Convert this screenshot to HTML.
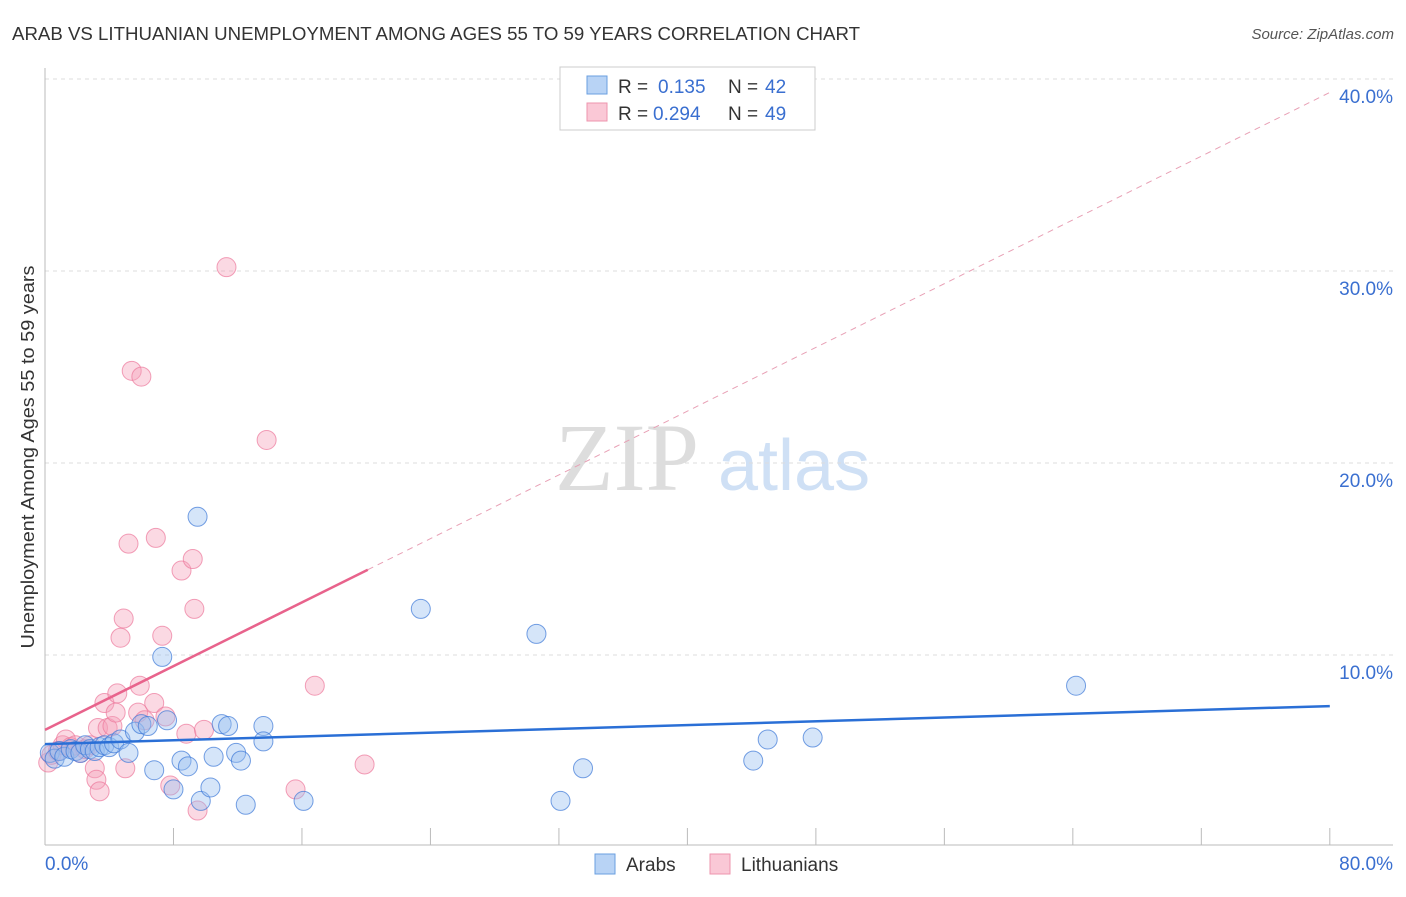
<!DOCTYPE html>
<html><head><meta charset="utf-8"><style>
body{margin:0;background:#fff;font-family:"Liberation Sans",sans-serif;}
</style></head><body>
<svg id="c" width="1406" height="892" xmlns="http://www.w3.org/2000/svg">
<text x="12" y="40" font-size="18" fill="#333" textLength="848" lengthAdjust="spacingAndGlyphs">ARAB VS LITHUANIAN UNEMPLOYMENT AMONG AGES 55 TO 59 YEARS CORRELATION CHART</text>
<text x="1394" y="39" font-size="15" fill="#555" font-style="italic" text-anchor="end">Source: ZipAtlas.com</text>
<text x="555" y="490" font-size="96" fill="#ddd" font-family="Liberation Serif,serif">ZIP</text>
<text x="718" y="490" font-size="72" fill="#cfe0f5">atlas</text>
<text transform="translate(34,457) rotate(-90)" font-size="18" fill="#333" text-anchor="middle" textLength="383" lengthAdjust="spacingAndGlyphs">Unemployment Among Ages 55 to 59 years</text>
<g id="grid"></g><g id="pts"></g><g id="lines"></g>
<g>
<rect x="560" y="67" width="255" height="63" fill="#fff" stroke="#ccc"/>
<rect x="587" y="76" width="20" height="18" fill="#b8d3f5" stroke="#6a9fe0"/>
<rect x="587" y="103" width="20" height="18" fill="#fac8d6" stroke="#ee94ae"/>
<text y="93" font-size="19" fill="#333"><tspan x="618">R =</tspan><tspan x="658" fill="#3a6fd0">0.135</tspan><tspan x="728">N =</tspan><tspan x="765" fill="#3a6fd0">42</tspan></text>
<text y="120" font-size="19" fill="#333"><tspan x="618">R =</tspan><tspan x="653" fill="#3a6fd0">0.294</tspan><tspan x="728">N =</tspan><tspan x="765" fill="#3a6fd0">49</tspan></text>
</g>
<g>
<rect x="595" y="854" width="20" height="20" fill="#b8d3f5" stroke="#6a9fe0"/>
<text x="626" y="871" font-size="19" fill="#333">Arabs</text>
<rect x="710" y="854" width="20" height="20" fill="#fac8d6" stroke="#ee94ae"/>
<text x="741" y="871" font-size="19" fill="#333">Lithuanians</text>
</g>
</svg>
<script>
const yTicks=[10,20,30,40];
const xTickCount=[0,8,16,24,32,40,48,56,64,72,80];
const arabX=[0.3,0.6,0.9,1.2,1.6,1.9,2.2,2.5,2.8,3.1,3.4,3.7,4.0,4.3,4.7,5.2,5.6,6.0,6.4,6.8,7.3,7.6,8.0,8.5,8.9,9.5,9.7,10.3,10.5,11.0,11.4,11.9,12.2,12.5,13.6,13.6,16.1,23.4,30.6,32.1,33.5,44.1,45.0,47.8,64.2];
const arabY=[4.9,4.6,5.0,4.7,5.1,5.0,4.9,5.3,5.1,5.0,5.2,5.3,5.2,5.4,5.6,4.9,6.0,6.4,6.3,4.0,9.9,6.6,3.0,4.5,4.2,17.2,2.4,3.1,4.7,6.4,6.3,4.9,4.5,2.2,6.3,5.5,2.4,12.4,11.1,2.4,4.1,4.5,5.6,5.7,8.4];
const lithX=[0.2,0.4,0.8,1.1,1.3,1.6,1.9,2.2,2.5,2.8,3.1,3.2,3.4,3.3,3.7,3.9,4.2,4.4,4.5,4.7,4.9,5.0,5.2,5.4,5.9,5.8,6.0,6.2,6.8,6.9,7.3,7.5,7.8,8.5,8.8,9.2,9.3,9.5,9.9,11.3,13.8,15.6,16.8,19.9];
const lithY=[4.4,4.8,5.0,5.3,5.6,5.2,5.3,4.9,5.1,5.3,4.1,3.5,2.9,6.2,7.5,6.2,6.3,7.0,8.0,10.9,11.9,4.1,15.8,24.8,8.4,7.0,24.5,6.6,7.5,16.1,11.0,6.8,3.2,14.4,5.9,15.0,12.4,1.9,6.1,30.2,21.2,3.0,8.4,4.3];
const arabTrend=[5.36,7.34];
const lithTrend=[6.1,0.415];
const X=v=>45+v*16.06, Y=v=>847-v*19.2;
const NS="http://www.w3.org/2000/svg";
function mk(p,t,a){const e=document.createElementNS(NS,t);for(const k in a)e.setAttribute(k,a[k]);p.appendChild(e);return e;}
const svg=document.getElementById('c'),g=document.getElementById('grid'),P=document.getElementById('pts'),L=document.getElementById('lines');
yTicks.forEach(t=>{const l=mk(g,'line',{x1:45,x2:1393,y1:Y(t),y2:Y(t),stroke:'#ddd','stroke-dasharray':'4,4'});


const tx=mk(g,'text',{x:1393,y:Y(t)+24,'font-size':19,fill:'#3a6fd0','text-anchor':'end'});tx.textContent=t.toFixed(1)+'%';

});
mk(g,'line',{x1:45,x2:45,y1:68,y2:845,stroke:'#bbb'});
mk(g,'line',{x1:45,x2:1393,y1:845,y2:845,stroke:'#bbb'});
xTickCount.forEach(t=>{const l=mk(g,'line',{x1:X(t),x2:X(t),y1:828,y2:845,stroke:'#bbb'});

});
const a0=mk(g,'text',{x:45,y:870,'font-size':19,fill:'#3a6fd0'});a0.textContent='0.0%';


const a1=mk(g,'text',{x:1393,y:870,'font-size':19,fill:'#3a6fd0','text-anchor':'end'});a1.textContent='80.0%';


lithX.forEach((x,i)=>{const c=mk(P,'circle',{cx:X(x),cy:Y(lithY[i]),r:9.5,fill:'rgba(246,160,185,0.4)',stroke:'rgba(236,120,155,0.7)','stroke-width':1});

});
arabX.forEach((x,i)=>{const c=mk(P,'circle',{cx:X(x),cy:Y(arabY[i]),r:9.5,fill:'rgba(150,190,240,0.4)',stroke:'rgba(60,120,215,0.7)','stroke-width':1});

});
const bl=mk(L,'line',{x1:X(0),y1:Y(arabTrend[0]),x2:X(80),y2:Y(arabTrend[1]),stroke:'#2a6fd6','stroke-width':2.5});


const pl=mk(L,'line',{x1:X(0),y1:Y(lithTrend[0]),x2:X(20.1),y2:Y(lithTrend[0]+lithTrend[1]*20.1),stroke:'#e8638c','stroke-width':2.5});


const pd=mk(L,'line',{x1:X(20.1),y1:Y(lithTrend[0]+lithTrend[1]*20.1),x2:X(80),y2:Y(lithTrend[0]+lithTrend[1]*80),stroke:'#e8a0b5','stroke-width':1,'stroke-dasharray':'6,5'});


</script>
</body></html>
